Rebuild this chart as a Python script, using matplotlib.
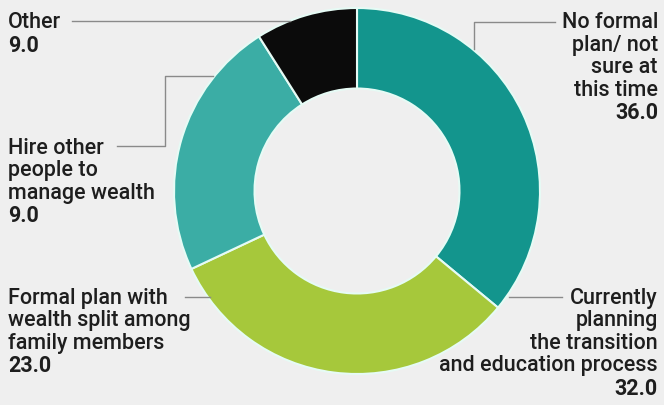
import matplotlib.pyplot as plt

# slice data (clockwise from 12 o'clock, as drawn)
slice_names = ['No formal plan', 'Currently planning', 'Hire other people', 'Other']
slice_values = [36, 32, 23, 9]
slice_colors = ['#13958d', '#a6c83b', '#3bada5', '#0b0b0b']

# labels as printed on the chart
label_texts = ['Other', 'Hire other\npeople to\nmanage wealth', 'Formal plan with\nwealth split among\nfamily members',
               'No formal\nplan/ not\nsure at\nthis time', 'Currently\nplanning\nthe transition\nand education process']
label_values = ['9.0', '9.0', '23.0', '36.0', '32.0']

W, H = 664, 406
BG = '#efefef'
TXT = '#1e1e1e'
LINE = '#8a8a8a'

fig = plt.figure(figsize=(W / 100, H / 100), dpi=100, facecolor=BG)
ax = fig.add_axes([0, 0, 1, 1])
ax.set_facecolor(BG)

# donut, centre and radius in pixel units
cx, cy, r = 357, H - 192, 183
ax.pie(slice_values, colors=slice_colors, startangle=90, counterclock=False,
       center=(cx, cy), radius=r,
       wedgeprops=dict(width=r * 0.44, edgecolor='#e6fbf5', linewidth=1.5))

ax.set_xlim(0, W)
ax.set_ylim(0, H)
ax.set_aspect('equal')
ax.axis('off')

font = 'Roboto'
fs = 15.5
lh = 22.5  # line height in px


def label(x, y, text, value, ha):
    lines = text.split('\n')
    for i, s in enumerate(lines):
        ax.text(x, H - y - i * lh, s, ha=ha, va='top', fontsize=fs, family=font,
                fontweight='medium', color=TXT)
    ax.text(x, H - y - len(lines) * lh, value, ha=ha, va='top', fontsize=fs, family=font,
            fontweight='bold', color=TXT)


label(8, 12, label_texts[0], label_values[0], 'left')
label(8, 138, label_texts[1], label_values[1], 'left')
label(8, 288, label_texts[2], label_values[2], 'left')
label(658, 12, label_texts[3], label_values[3], 'right')
label(658, 288, label_texts[4], label_values[4], 'right')


def leader(xs, ys):
    ax.plot(xs, [H - y for y in ys], color=LINE, lw=1)


leader([72, 290], [22, 22])
leader([117, 165, 165, 213], [147, 147, 77, 77])
leader([185, 210], [298, 298])
leader([555, 474, 474], [23, 23, 50])
leader([509, 562], [298, 298])

fig.savefig('out.png', dpi=100, facecolor=BG)
